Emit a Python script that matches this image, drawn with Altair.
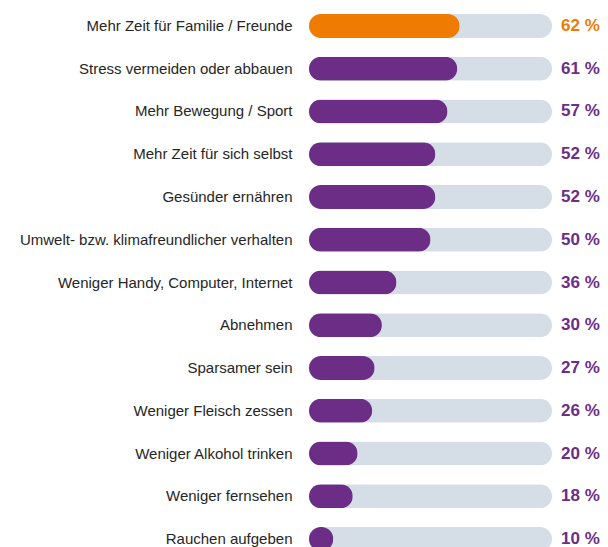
import altair as alt
import pandas as pd

labels = [
    "Mehr Zeit für Familie / Freunde",
    "Stress vermeiden oder abbauen",
    "Mehr Bewegung / Sport",
    "Mehr Zeit für sich selbst",
    "Gesünder ernähren",
    "Umwelt- bzw. klimafreundlicher verhalten",
    "Weniger Handy, Computer, Internet",
    "Abnehmen",
    "Sparsamer sein",
    "Weniger Fleisch zessen",
    "Weniger Alkohol trinken",
    "Weniger fernsehen",
    "Rauchen aufgeben",
]
values = [62, 61, 57, 52, 52, 50, 36, 30, 27, 26, 20, 18, 10]
highlight = [True] + [False] * 12

ORANGE = "#EF7B00"
PURPLE = "#6C2D86"
TRACK = "#D5DEE6"

df = pd.DataFrame({
    "label": labels,
    "value": values,
    "full": [100] * len(labels),
    "text": [f"{v} %" for v in values],
    "color": [ORANGE if h else PURPLE for h in highlight],
})

FONT = "Liberation Sans"

base = alt.Chart(df).encode(
    y=alt.Y(
        "label:N",
        sort=labels,
        scale=alt.Scale(paddingInner=0.4386, paddingOuter=0),
        axis=alt.Axis(
            title=None, domain=False, ticks=False, labelPadding=17,
            labelFontSize=15, labelFont=FONT, labelColor="#262626",
            labelLimit=400,
        ),
    )
)

xscale = alt.Scale(domain=[0, 100])

track = base.mark_bar(color=TRACK, cornerRadius=12).encode(
    x=alt.X("full:Q", scale=xscale, axis=None)
)
bars = base.mark_bar(cornerRadius=12).encode(
    x=alt.X("value:Q", scale=xscale, axis=None),
    color=alt.Color("color:N", scale=None),
)
texts = base.mark_text(
    align="left", baseline="middle", dx=9, font=FONT, fontSize=17,
    fontWeight="bold",
).encode(
    x=alt.X("full:Q", scale=xscale, axis=None),
    text="text:N",
    color=alt.Color("color:N", scale=None),
)

chart = alt.layer(track, bars, texts).properties(
    width=243,
    height=537,
    autosize="none",
    padding={"left": 301, "top": 6, "right": 48, "bottom": 0},
).configure_view(stroke=None)

chart.save("out.html", embed_options={"renderer": "svg", "actions": False})
